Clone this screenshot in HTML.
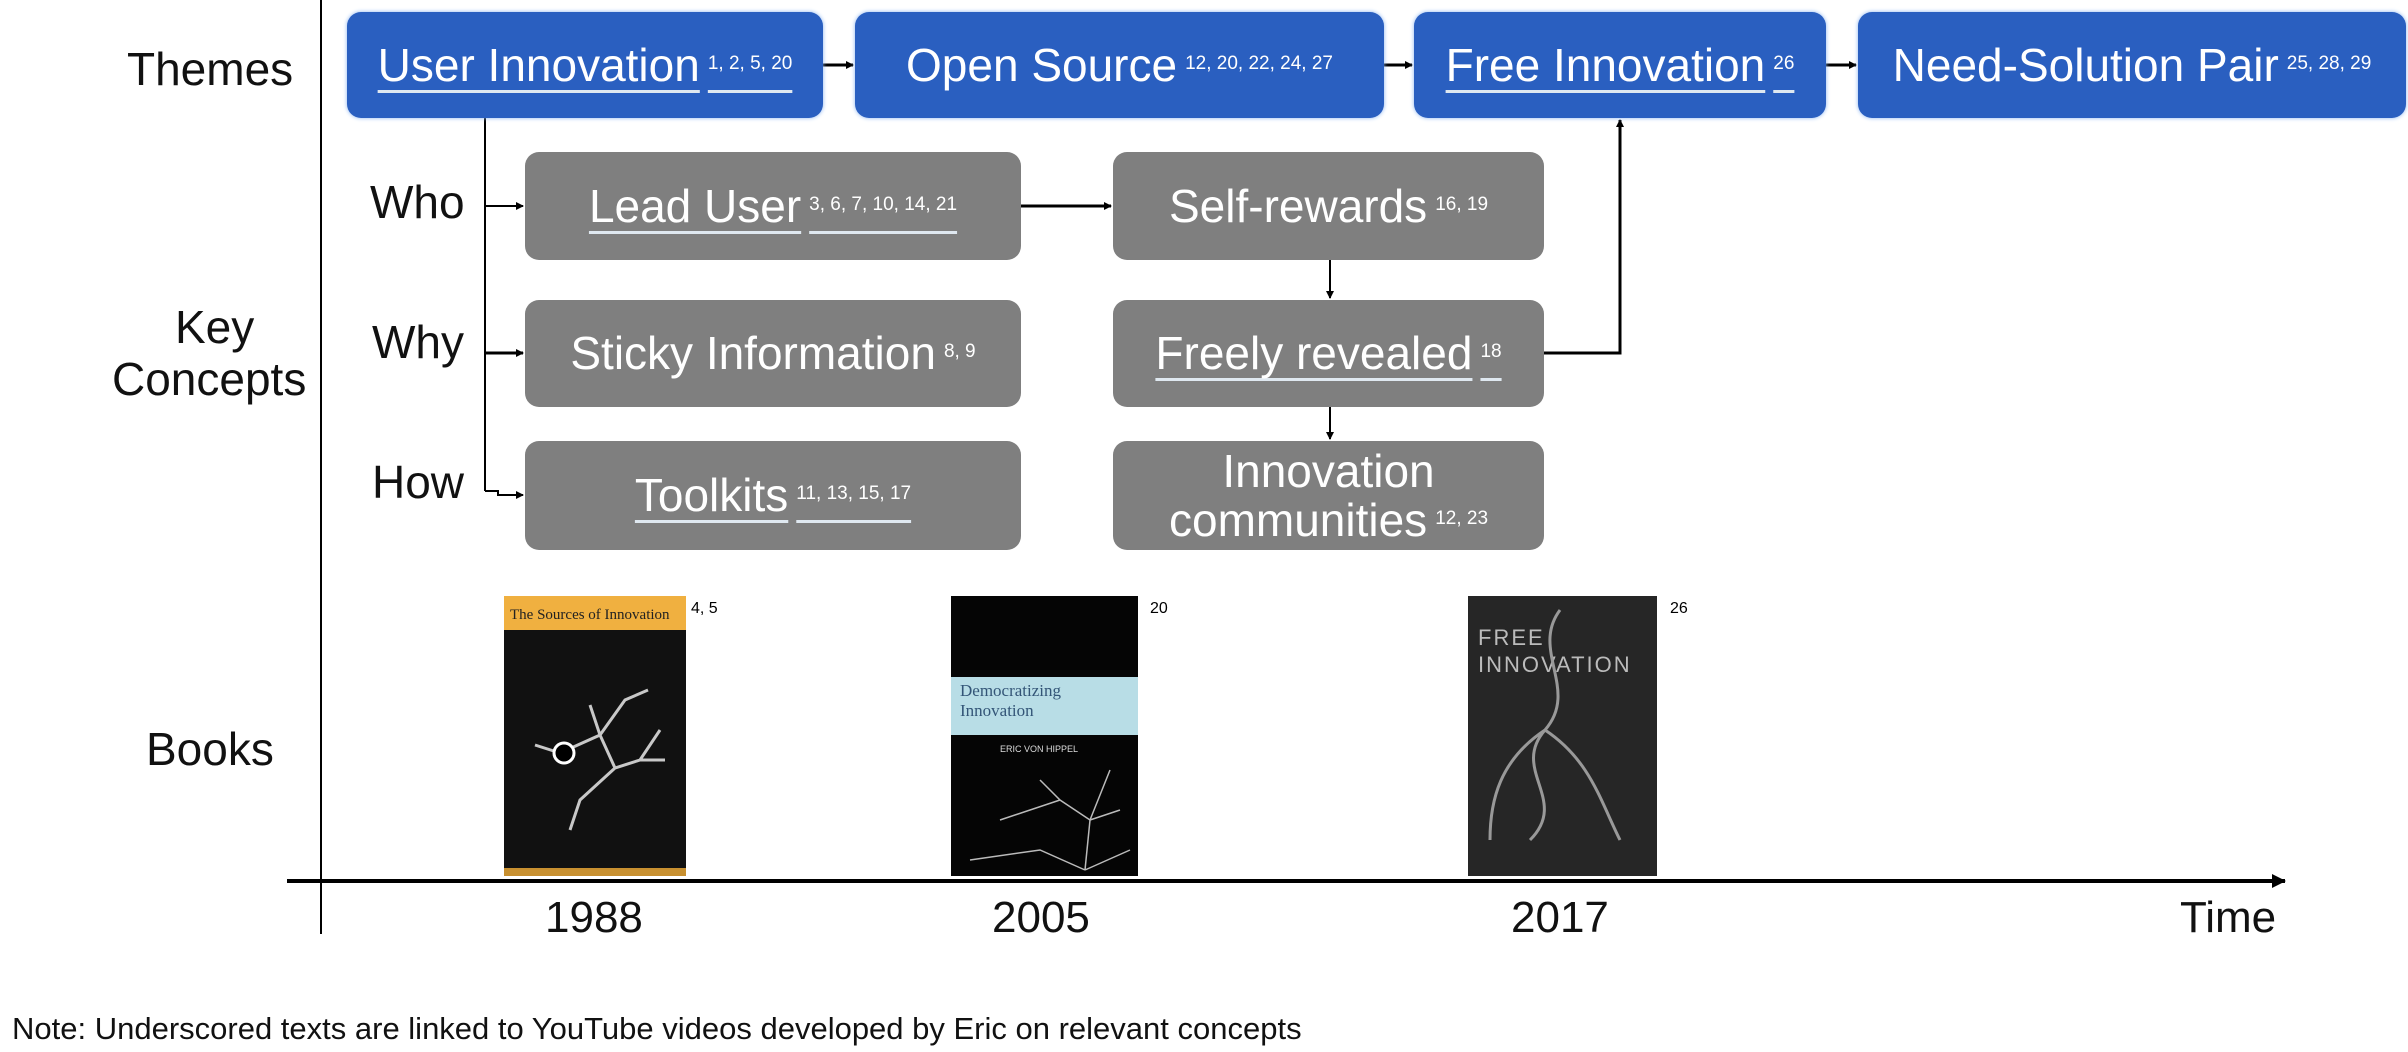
<!DOCTYPE html>
<html><head><meta charset="utf-8"><style>
body{margin:0;width:2408px;height:1052px;background:#fff;position:relative;overflow:hidden;font-family:"Liberation Sans",Arial,sans-serif;}
.t{position:absolute;white-space:nowrap;}
.box{position:absolute;border-radius:14px;color:#fff;display:flex;align-items:center;justify-content:center;font-size:46px;white-space:nowrap;text-align:center;line-height:1.05;}
.blue{background:#2a5fc0;box-shadow:0 0 4px #8ab4f0;}
.gray{background:#7f7f7f;}
sup{font-size:19px;vertical-align:0;position:relative;top:-12px;margin-left:8px;}
u{text-decoration:underline;text-decoration-thickness:3px;text-underline-offset:9px;text-decoration-color:#dfe8f0;}
.lbl{font-size:46px;color:#111;}
</style></head><body>
<svg width="2408" height="1052" style="position:absolute;left:0;top:0">
<defs><marker id="a" markerWidth="8" markerHeight="8" refX="7" refY="4" orient="auto" markerUnits="userSpaceOnUse"><path d="M0,0L8,4L0,8z" fill="#000"/></marker>
<marker id="b" markerWidth="14" markerHeight="14" refX="13" refY="7" orient="auto" markerUnits="userSpaceOnUse"><path d="M0,0L14,7L0,14z" fill="#000"/></marker></defs>
<g stroke="#000" stroke-width="2" fill="none">
<line x1="321" y1="0" x2="321" y2="934"/>
<line x1="287" y1="881" x2="2285" y2="881" stroke-width="4" marker-end="url(#b)"/>
<path d="M485,118V491"/>
<line x1="485" y1="206" x2="523" y2="206" marker-end="url(#a)"/>
<line x1="485" y1="353" x2="523" y2="353" stroke-width="3" marker-end="url(#a)"/>
<path d="M485,491H498V495H523" marker-end="url(#a)"/>
<line x1="1021" y1="206" x2="1111" y2="206" stroke-width="3" marker-end="url(#a)"/>
<line x1="1330" y1="260" x2="1330" y2="298" marker-end="url(#a)"/>
<line x1="1330" y1="407" x2="1330" y2="439" marker-end="url(#a)"/>
<path d="M1544,353H1620V120" stroke-width="3" marker-end="url(#a)"/>
<line x1="823" y1="65" x2="853" y2="65" stroke-width="3" marker-end="url(#a)"/>
<line x1="1384" y1="65" x2="1412" y2="65" stroke-width="3" marker-end="url(#a)"/>
<line x1="1826" y1="65" x2="1856" y2="65" stroke-width="3" marker-end="url(#a)"/>
</g>
<rect x="504" y="596" width="182" height="280" fill="#111"/>
<rect x="504" y="596" width="182" height="34" fill="#f0b040"/>
<rect x="504" y="868" width="182" height="8" fill="#c89030"/>
<text x="510" y="619" font-family="Liberation Serif" font-size="15" fill="#222">The Sources of Innovation</text>
<g stroke="#ddd" stroke-width="3" fill="none" opacity="0.9">
<path d="M560,753L600,735L625,700L648,690M600,735L615,768L640,760L660,730M560,753L535,745M600,735L590,705M615,768L580,800L570,830M640,760L665,760"/>
</g>
<circle cx="564" cy="753" r="10" fill="#000" stroke="#fff" stroke-width="3"/>
<rect x="951" y="596" width="187" height="280" fill="#050505"/>
<rect x="951" y="677" width="187" height="58" fill="#b8dde6"/>
<text x="960" y="696" font-family="Liberation Serif" font-size="17" fill="#357">Democratizing</text>
<text x="960" y="716" font-family="Liberation Serif" font-size="17" fill="#357">Innovation</text>
<text x="1000" y="752" font-size="9" fill="#ddd">ERIC VON HIPPEL</text>
<g stroke="#bbb" stroke-width="1.5" fill="none"><path d="M1085,870L1090,820L1110,770M1090,820L1060,800L1040,780M1085,870L1040,850L970,860M1085,870L1130,850M1090,820L1120,810M1060,800L1000,820"/></g>
<rect x="1468" y="596" width="189" height="280" fill="#262626"/>
<text x="1478" y="645" font-size="22" fill="#bbb" letter-spacing="2">FREE</text>
<text x="1478" y="672" font-size="22" fill="#bbb" letter-spacing="2">INNOVATION</text>
<g stroke="#999" stroke-width="3" fill="none"><path d="M1560,610C1530,650 1580,690 1545,730C1510,770 1570,800 1530,840M1545,730C1590,760 1600,800 1620,840M1545,730C1500,760 1490,800 1490,840"/></g>
</svg>
<div class="t lbl" style="left:127px;top:42px">Themes</div>
<div class="t lbl" style="left:175px;top:300px">Key</div>
<div class="t lbl" style="left:112px;top:352px">Concepts</div>
<div class="t lbl" style="left:146px;top:722px">Books</div>
<div class="t lbl" style="left:370px;top:175px">Who</div>
<div class="t lbl" style="left:372px;top:315px">Why</div>
<div class="t lbl" style="left:372px;top:455px">How</div>
<div class="box blue" style="left:347px;top:12px;width:476px;height:106px"><u>User Innovation<sup>1, 2, 5, 20</sup></u></div>
<div class="box blue" style="left:855px;top:12px;width:529px;height:106px"><span>Open Source<sup>12, 20, 22, 24, 27</sup></span></div>
<div class="box blue" style="left:1414px;top:12px;width:412px;height:106px"><u>Free Innovation<sup>26</sup></u></div>
<div class="box blue" style="left:1858px;top:12px;width:548px;height:106px"><span>Need-Solution Pair<sup>25, 28, 29</sup></span></div>
<div class="box gray" style="left:525px;top:152px;width:496px;height:108px"><u>Lead User<sup>3, 6, 7, 10, 14, 21</sup></u></div>
<div class="box gray" style="left:525px;top:300px;width:496px;height:107px"><span>Sticky Information<sup>8, 9</sup></span></div>
<div class="box gray" style="left:525px;top:441px;width:496px;height:109px"><u>Toolkits<sup>11, 13, 15, 17</sup></u></div>
<div class="box gray" style="left:1113px;top:152px;width:431px;height:108px"><span>Self-rewards<sup>16, 19</sup></span></div>
<div class="box gray" style="left:1113px;top:300px;width:431px;height:107px"><u>Freely revealed<sup>18</sup></u></div>
<div class="box gray" style="left:1113px;top:441px;width:431px;height:109px"><span>Innovation<br>communities<sup>12, 23</sup></span></div>
<div class="t" style="left:691px;top:600px;font-size:16px">4, 5</div>
<div class="t" style="left:1150px;top:600px;font-size:16px">20</div>
<div class="t" style="left:1670px;top:600px;font-size:16px">26</div>
<div class="t lbl" style="left:545px;top:893px;font-size:44px">1988</div>
<div class="t lbl" style="left:992px;top:893px;font-size:44px">2005</div>
<div class="t lbl" style="left:1511px;top:893px;font-size:44px">2017</div>
<div class="t lbl" style="left:2180px;top:893px;font-size:44px">Time</div>
<div class="t" style="left:12px;top:1011px;font-size:31px;color:#111">Note: Underscored texts are linked to YouTube videos developed by Eric on relevant concepts</div>
</body></html>
